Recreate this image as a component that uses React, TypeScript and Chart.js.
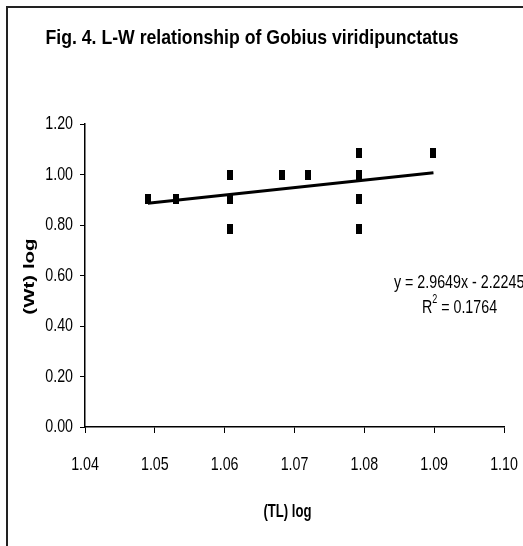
import React, { useEffect, useRef } from "react";
import { Chart, registerables } from "chart.js";

Chart.register(...registerables);

const TITLE = "Fig. 4. L-W relationship of Gobius viridipunctatus";
const X_TITLE = "(TL) log";
const Y_TITLE = "(Wt) log";
const TL_LOG = [1.049, 1.0531, 1.0607, 1.0607, 1.0607, 1.0682, 1.0719, 1.0792, 1.0792, 1.0792, 1.0792, 1.0899];
const WT_LOG = [0.903, 0.903, 1.0, 0.903, 0.785, 1.0, 1.0, 1.085, 1.0, 0.903, 0.785, 1.085];
const SLOPE = 2.9649;
const INTERCEPT = -2.2245;
const EQ_TEXT = "y = 2.9649x - 2.2245";
const R2_VALUE = "0.1764";
const X_MIN = 1.04;
const X_MAX = 1.1;
const X_STEP = 0.01;
const Y_MIN = 0;
const Y_MAX = 1.2;
const Y_STEP = 0.2;

const FONT = '"Liberation Sans", Arial, sans-serif';
const SX = 0.75;

function drawText(
  ctx: CanvasRenderingContext2D,
  text: string,
  x: number,
  y: number,
  font: string,
  align: CanvasTextAlign,
  sx: number,
  rotate = false
) {
  ctx.save();
  ctx.translate(x, y);
  ctx.scale(sx, 1);
  if (rotate) ctx.rotate(-Math.PI / 2);
  ctx.font = font;
  ctx.textAlign = align;
  ctx.textBaseline = "middle";
  ctx.fillStyle = "#000";
  ctx.fillText(text, 0, 0);
  ctx.restore();
}

export default function App() {
  const ref = useRef<HTMLCanvasElement | null>(null);

  useEffect(() => {
    if (!ref.current) return;
    const marker = document.createElement("canvas");
    marker.width = 6;
    marker.height = 10;
    const mctx = marker.getContext("2d")!;
    mctx.fillStyle = "#000";
    mctx.fillRect(0, 0, 6, 10);

    const xMin = Math.min(...TL_LOG);
    const xMax = Math.max(...TL_LOG);
    const trend = [
      { x: xMin, y: SLOPE * xMin + INTERCEPT },
      { x: xMax, y: SLOPE * xMax + INTERCEPT },
    ];

    const textPlugin = {
      id: "narrowText",
      afterDraw(chart: any) {
        const { ctx, scales, chartArea } = chart;
        const xs = scales.x;
        const ys = scales.y;
        // title
        ctx.save();
        ctx.font = `bold 21px ${FONT}`;
        const tw = ctx.measureText(TITLE).width;
        ctx.restore();
        drawText(ctx, TITLE, 252, 38, `bold 21px ${FONT}`, "center", 413 / tw);
        // x tick labels
        for (const t of xs.ticks) {
          drawText(ctx, Number(t.value).toFixed(2), xs.getPixelForValue(t.value), chartArea.bottom + 38, `19px ${FONT}`, "center", SX);
        }
        // y tick labels
        for (const t of ys.ticks) {
          drawText(ctx, Number(t.value).toFixed(2), chartArea.left - 12, ys.getPixelForValue(t.value), `19px ${FONT}`, "right", SX);
        }
        // axis titles
        drawText(ctx, X_TITLE, (chartArea.left + chartArea.right) / 2 - 7, chartArea.bottom + 85, `bold 17.5px ${FONT}`, "center", SX);
        drawText(ctx, Y_TITLE, 30, (chartArea.top + chartArea.bottom) / 2 + 1, `bold 20.5px ${FONT}`, "center", SX, true);
        // equation
        drawText(ctx, EQ_TEXT, 394, 283, `19px ${FONT}`, "left", SX);
        ctx.save();
        ctx.font = `19px ${FONT}`;
        const wR = ctx.measureText("R").width * SX;
        const rest = " = " + R2_VALUE;
        const wRest = ctx.measureText(rest).width * SX;
        ctx.font = `12px ${FONT}`;
        const w2 = ctx.measureText("2").width * SX;
        ctx.restore();
        const total = wR + w2 + wRest;
        const x0 = 459.5 - total / 2;
        const cy = 308;
        drawText(ctx, "R", x0, cy, `19px ${FONT}`, "left", SX);
        drawText(ctx, "2", x0 + wR, cy - 8, `12px ${FONT}`, "left", SX);
        drawText(ctx, rest, x0 + wR + w2, cy, `19px ${FONT}`, "left", SX);
      },
    };

    const chart = new Chart(ref.current, {
      type: "scatter",
      data: {
        datasets: [
          {
            type: "line",
            data: trend,
            borderColor: "#000",
            borderWidth: 3,
            pointRadius: 0,
            fill: false,
          } as any,
          {
            data: TL_LOG.map((x, i) => ({ x, y: WT_LOG[i] })),
            pointStyle: marker as any,
            pointRadius: 5,
            backgroundColor: "#000",
            borderColor: "#000",
          },
        ],
      },
      options: {
        animation: false,
        responsive: false,
        maintainAspectRatio: false,
        layout: { padding: { left: 0, right: 19, top: 124, bottom: 0 } },
        plugins: {
          legend: { display: false },
          tooltip: { enabled: false },
          title: { display: false },
        },
        scales: {
          x: {
            type: "linear",
            min: X_MIN,
            max: X_MAX,
            afterFit: (s: any) => {
              s.height = 119;
            },
            ticks: { stepSize: X_STEP, display: false },
            grid: { drawOnChartArea: false, drawTicks: true, tickLength: 6, color: "#000", lineWidth: 1 },
            border: { display: true, color: "#000", width: 1.5 },
          },
          y: {
            min: Y_MIN,
            max: Y_MAX,
            afterFit: (s: any) => {
              s.width = 85;
            },
            ticks: { stepSize: Y_STEP, display: false },
            grid: { drawOnChartArea: false, drawTicks: true, tickLength: 5, color: "#000", lineWidth: 1 },
            border: { display: true, color: "#000", width: 1.5 },
          },
        },
      },
      plugins: [textPlugin],
    });
    return () => chart.destroy();
  }, []);

  return (
    <div style={{ position: "fixed", left: 0, top: 0, width: 523, height: 546, overflow: "hidden", background: "#fff" }}>
      <div
        style={{
          position: "absolute",
          left: 6,
          top: 6,
          width: 600,
          height: 600,
          borderLeft: "2px solid #222",
          borderTop: "2px solid #222",
        }}
      />
      <canvas ref={ref} width={523} height={546} style={{ position: "absolute", left: 0, top: 0, width: 523, height: 546 }} />
    </div>
  );
}
